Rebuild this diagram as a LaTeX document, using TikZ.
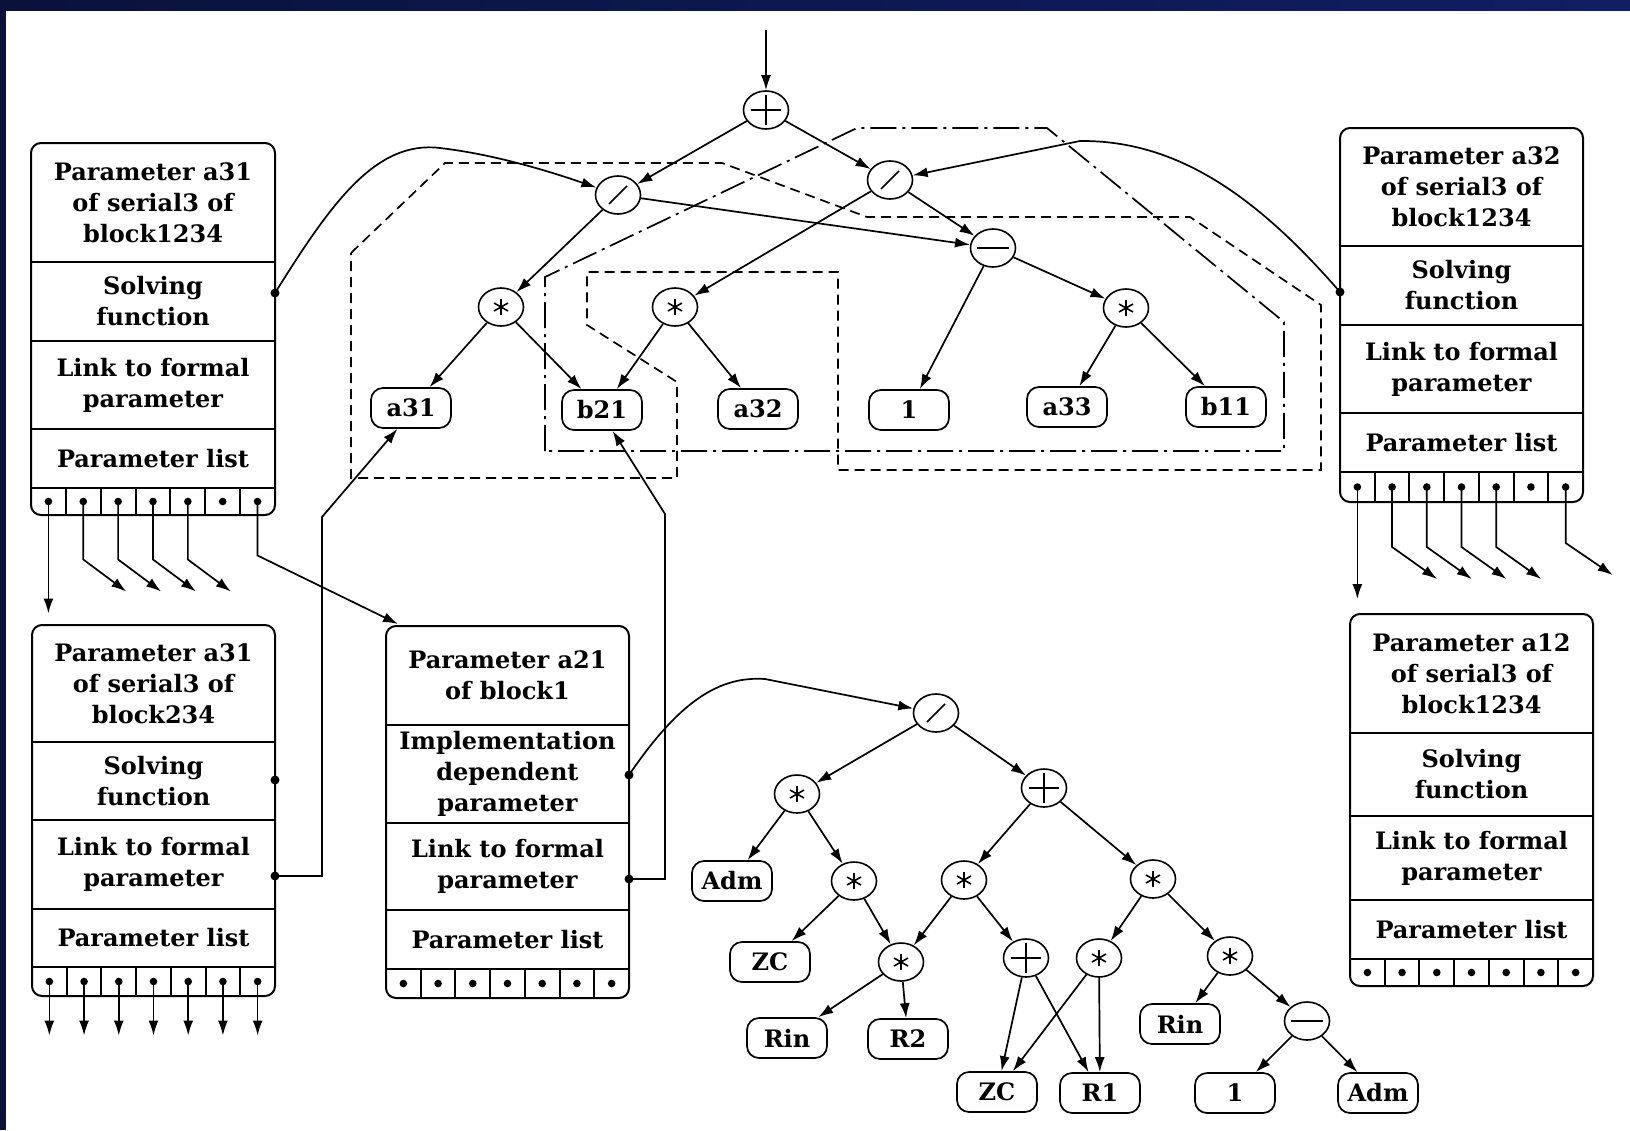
\documentclass[tikz,border=0pt]{standalone}
\usepackage{fontspec}
\setmainfont{DejaVu Serif}
\usetikzlibrary{arrows.meta,shapes.geometric}
\definecolor{navyA}{RGB}{10,18,58}
\definecolor{navyB}{RGB}{16,30,100}
\tikzset{
 boxline/.style={line width=2pt},
 conn/.style={line width=1.7pt},
 arr/.style={conn,-{Latex[length=15pt,width=10pt]}},
 dashA/.style={line width=1.7pt,dash pattern=on 10pt off 6pt},
 dashB/.style={line width=1.7pt,dash pattern=on 26pt off 6pt on 3pt off 6pt},
 txt/.style={align=center,inner sep=0pt,font=\fontsize{24}{31}\selectfont\bfseries},
 leaf/.style={draw,fill=white,line width=1.7pt,rounded corners=12pt,minimum width=80pt,minimum height=40pt,inner sep=0pt,font=\fontsize{24}{24}\selectfont\bfseries},
 op/.style={draw,fill=white,ellipse,line width=1.6pt,minimum width=45pt,minimum height=38pt,inner sep=0pt},
 opplus/.style={op,path picture={
   \draw[line width=1.7pt] ([xshift=-15pt]path picture bounding box.center) -- ([xshift=15pt]path picture bounding box.center);
   \draw[line width=1.7pt] ([yshift=-15pt]path picture bounding box.center) -- ([yshift=15pt]path picture bounding box.center);}},
 opminus/.style={op,path picture={
   \draw[line width=1.7pt] ([xshift=-16pt]path picture bounding box.center) -- ([xshift=16pt]path picture bounding box.center);}},
 opslash/.style={op,path picture={
   \draw[line width=1.7pt] ([shift={(-9pt,-9pt)}]path picture bounding box.center) -- ([shift={(9pt,9pt)}]path picture bounding box.center);}},
 opstar/.style={op,path picture={
   \draw[line width=1.6pt] ([shift={(0pt,-8pt)}]path picture bounding box.center) -- ([shift={(0pt,8pt)}]path picture bounding box.center);
   \draw[line width=1.6pt] ([shift={(-7pt,-4pt)}]path picture bounding box.center) -- ([shift={(7pt,4pt)}]path picture bounding box.center);
   \draw[line width=1.6pt] ([shift={(-7pt,4pt)}]path picture bounding box.center) -- ([shift={(7pt,-4pt)}]path picture bounding box.center);}},
}
% #1 name, #2 x1, #3 x2, #4 ytop, #5-#8 dividers, #9 ybottom
\newcommand\pbox[9]{%
  \draw[boxline,rounded corners=10pt] (#2,#4) rectangle (#3,#9);
  \foreach \yy in {#5,#6,#7,#8} \draw[boxline] (#2,\yy) -- (#3,\yy);
  \pgfmathsetmacro\cw{(#3-#2)/7}
  \pgfmathsetmacro\pyc{(#8+#9)/2}
  \foreach \i in {1,...,6}{\pgfmathsetmacro\vx{#2+\i*\cw}\draw[boxline] (\vx,#8) -- (\vx,#9);}
  \foreach \i in {1,...,7}{\pgfmathsetmacro\px{#2+(\i-0.5)*\cw}\coordinate (#1-p\i) at (\px,\pyc);\fill (#1-p\i) circle (3.8pt);}
  \coordinate (#1-r1) at ({(#2+#3)/2},{(#4+#5)/2});
  \coordinate (#1-r2) at ({(#2+#3)/2},{(#5+#6)/2});
  \coordinate (#1-r3) at ({(#2+#3)/2},{(#6+#7)/2});
  \coordinate (#1-r4) at ({(#2+#3)/2},{(#7+#8)/2});
}
\begin{document}
\begin{tikzpicture}[x=1pt,y=-1pt]
\useasboundingbox (0,0) rectangle (1630,1130);
\fill[white] (0,0) rectangle (1630,1130);
\shade[left color=navyA,right color=navyB] (0,0) rectangle (1630,10);
\fill[navyA] (0,0) rectangle (6,1130);

% grouping outlines
\draw[dashA] (351,253) -- (445,163) -- (722,163) -- (867,217) -- (1190,217) -- (1321,305) -- (1321,470) -- (838,470) -- (838,272) -- (587,272) -- (587,325) -- (677,382) -- (677,478) -- (351,478) -- cycle;
\draw[dashB] (545,451) -- (545,277) -- (857,128) -- (1047,128) -- (1284,322) -- (1284,451) -- cycle;

% parameter boxes
\pbox{A}{31}{275}{143}{262}{341}{429}{488}{515}
\pbox{C}{32}{275}{625}{742}{820}{909}{967}{996}
\pbox{B}{386}{629}{626}{725}{823}{910}{969}{998}
\pbox{D}{1340}{1583}{128}{246}{325}{413}{472}{502}
\pbox{E}{1350}{1593}{614}{733}{816}{900}{959}{986}

\node[txt] (A1) at (A-r1) {Parameter a31\\of serial3 of\\block1234};
\node[txt] (A2) at (A-r2) {Solving\\function};
\node[txt] (A3) at (A-r3) {Link to formal\\parameter};
\node[txt] (A4) at (A-r4) {Parameter list};
\node[txt] (C1) at (C-r1) {Parameter a31\\of serial3 of\\block234};
\node[txt] (C2) at (C-r2) {Solving\\function};
\node[txt] (C3) at (C-r3) {Link to formal\\parameter};
\node[txt] (C4) at (C-r4) {Parameter list};
\node[txt] (B1) at (B-r1) {Parameter a21\\of block1};
\node[txt] (B2) at (B-r2) {Implementation\\dependent\\parameter};
\node[txt] (B3) at (B-r3) {Link to formal\\parameter};
\node[txt] (B4) at (B-r4) {Parameter list};
\node[txt] (D1) at (D-r1) {Parameter a32\\of serial3 of\\block1234};
\node[txt] (D2) at (D-r2) {Solving\\function};
\node[txt] (D3) at (D-r3) {Link to formal\\parameter};
\node[txt] (D4) at (D-r4) {Parameter list};
\node[txt] (E1) at (E-r1) {Parameter a12\\of serial3 of\\block1234};
\node[txt] (E2) at (E-r2) {Solving\\function};
\node[txt] (E3) at (E-r3) {Link to formal\\parameter};
\node[txt] (E4) at (E-r4) {Parameter list};

% connector dots
\coordinate (A-sf) at (275,293);
\coordinate (C-sf) at (275,780);
\coordinate (C-lk) at (275,876);
\coordinate (B-im) at (629,775);
\coordinate (B-lk) at (629,879);
\coordinate (D-sf) at (1340,292);
\foreach \c in {A-sf,C-sf,C-lk,B-im,B-lk,D-sf} \fill (\c) circle (4.5pt);

% top expression tree
\node[opplus] (tP) at (766,110) {};
\node[opslash] (tSL) at (618,195) {};
\node[opslash] (tSR) at (890,180) {};
\node[opminus] (tM) at (993,248) {};
\node[opstar] (tS1) at (501,307) {};
\node[opstar] (tS2) at (675,307) {};
\node[opstar] (tS3) at (1126,308) {};
\node[leaf] (a31) at (411,408) {a31};
\node[leaf] (b21) at (602,410) {b21};
\node[leaf] (a32) at (758,409) {a32};
\node[leaf] (one1) at (909,410) {1};
\node[leaf] (a33) at (1067,407) {a33};
\node[leaf] (b11) at (1226,407) {b11};

\coordinate (in) at (766,30);
\draw[arr] (in) -- (tP);
\draw[arr] (tP) -- (tSL);
\draw[arr] (tP) -- (tSR);
\draw[arr] (tSL) -- (tS1);
\draw[arr] (tSL) -- (tM);
\draw[arr] (tSR) -- (tS2);
\draw[arr] (tSR) -- (tM);
\draw[arr] (tM) -- (one1);
\draw[arr] (tM) -- (tS3);
\draw[arr] (tS1) -- (a31);
\draw[arr] (tS1) -- (b21);
\draw[arr] (tS2) -- (b21);
\draw[arr] (tS2) -- (a32);
\draw[arr] (tS3) -- (a33);
\draw[arr] (tS3) -- (b11);

% bottom expression tree
\node[opslash] (bS) at (936,713) {};
\node[opstar] (b1) at (797,794) {};
\node[opplus] (bP1) at (1044,788) {};
\node[leaf] (adm1) at (732,881) {Adm};
\node[opstar] (b2) at (854,881) {};
\node[opstar] (b3) at (964,880) {};
\node[opstar] (b4) at (1153,879) {};
\node[leaf] (zc1) at (770,962) {ZC};
\node[opstar] (b5) at (901,962) {};
\node[opplus] (bP2) at (1026,958) {};
\node[opstar] (b6) at (1099,958) {};
\node[opstar] (b7) at (1230,956) {};
\node[leaf] (rin1) at (787,1038) {Rin};
\node[leaf] (r2) at (908,1039) {R2};
\node[leaf] (zc2) at (997,1092) {ZC};
\node[leaf] (r1) at (1100,1093) {R1};
\node[leaf] (rin2) at (1180,1024) {Rin};
\node[opminus] (bM) at (1307,1021) {};
\node[leaf] (oneB) at (1235,1093) {1};
\node[leaf] (adm2) at (1378,1093) {Adm};

\draw[arr] (bS) -- (b1);
\draw[arr] (bS) -- (bP1);
\draw[arr] (b1) -- (adm1);
\draw[arr] (b1) -- (b2);
\draw[arr] (b2) -- (zc1);
\draw[arr] (b2) -- (b5);
\draw[arr] (b5) -- (rin1);
\draw[arr] (b5) -- (r2);
\draw[arr] (bP1) -- (b3);
\draw[arr] (bP1) -- (b4);
\draw[arr] (b3) -- (b5);
\draw[arr] (b3) -- (bP2);
\draw[arr] (bP2) -- (zc2);
\draw[arr] (bP2) -- (r1);
\draw[arr] (b4) -- (b6);
\draw[arr] (b4) -- (b7);
\draw[arr] (b6) -- (zc2);
\draw[arr] (b6) -- (r1);
\draw[arr] (b7) -- (rin2);
\draw[arr] (b7) -- (bM);
\draw[arr] (bM) -- (oneB);
\draw[arr] (bM) -- (adm2);

% curved links from solving functions
\draw[arr] (A-sf) .. controls (330,205) and (375,140) .. (440,148) .. controls (500,155) and (560,175) .. (tSL);
\draw[arr] (D-sf) .. controls (1260,200) and (1180,140) .. (1080,141) -- (tSR);
\draw[arr] (B-im) .. controls (680,700) and (720,676) .. (765,679) -- (bS);

% links to formal parameters
\draw[arr] (C-lk) -- ++(47,0) -- ++(0,-359) -- (a31.237);
\draw[arr] (B-lk) -- ++(36,0) -- ++(0,-365) -- (b21.297);

% parameter list outputs
\coordinate (Bin) at (398,624);
\draw[arr] (A-p1) -- ++(0,112);
\foreach \i in {2,...,5} \draw[arr] (A-p\i) -- ++(0,58) -- ++(43,32);
\draw[arr] (A-p7) -- ++(0,54) -- (Bin);
\foreach \i in {1,...,7} \draw[arr] (C-p\i) -- ++(0,54);
\draw[arr] (D-p1) -- ++(0,112);
\foreach \i in {2,...,5} \draw[arr] (D-p\i) -- ++(0,60) -- ++(45,32);
\draw[arr] (D-p7) -- ++(0,56) -- ++(47,32);
\end{tikzpicture}
\end{document}
